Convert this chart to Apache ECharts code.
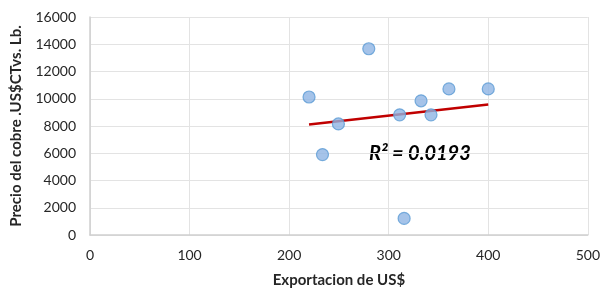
<!DOCTYPE html>
<html>
<head>
<meta charset="utf-8">
<script src="https://cdn.jsdelivr.net/npm/echarts@6/dist/echarts.min.js"></script>
<style>
  html, body { margin: 0; padding: 0; background: #fff; }
  #chart { width: 603px; height: 293px; }
</style>
</head>
<body>
<div id="chart"></div>
<script>
// datos
const exportaciones = [220, 280, 249.5, 233.5, 311, 332.5, 342.5, 360.5, 400, 315.5]
const precios = [10130, 13670, 8150, 5900, 8820, 9850, 8820, 10720, 10720, 1220]
const r2Texto = 'R² = 0.0193'

// recta de tendencia (minimos cuadrados)
const n = exportaciones.length
const mx = exportaciones.reduce((a, b) => a + b, 0) / n
const my = precios.reduce((a, b) => a + b, 0) / n
let sxy = 0, sxx = 0
for (let i = 0; i < n; i++) {
  sxy += (exportaciones[i] - mx) * (precios[i] - my)
  sxx += (exportaciones[i] - mx) ** 2
}
const pendiente = sxy / sxx
const xMin = Math.min(...exportaciones)
const xMax = Math.max(...exportaciones)
const tendencia = [
  [xMin, my + pendiente * (xMin - mx)],
  [xMax, my + pendiente * (xMax - mx)]
]

const puntos = exportaciones.map((x, i) => [x, precios[i]])

const chart = echarts.init(document.getElementById('chart'))
const fuente = 'Lato'
chart.setOption({
  animation: false,
  textStyle: { fontFamily: fuente },
  grid: { left: 90, right: 14, top: 17, bottom: 56 },
  xAxis: {
    type: 'value',
    min: 0, max: 500, interval: 100,
    name: 'Exportacion de US$',
    nameLocation: 'middle',
    nameGap: 38,
    nameTextStyle: { fontFamily: fuente, fontWeight: 'bold', fontSize: 15, color: '#262626' },
    axisLine: { show: true, lineStyle: { color: '#cfcfcf', width: 1.5 } },
    axisTick: { show: false },
    axisLabel: { fontFamily: fuente, fontSize: 14, color: '#262626', margin: 13 },
    splitLine: { show: true, lineStyle: { color: '#e3e3e3', width: 1 } }
  },
  yAxis: {
    type: 'value',
    min: 0, max: 16000, interval: 2000,
    name: 'Precio del cobre .US$CTvs. Lb.',
    nameLocation: 'middle',
    nameGap: 66,
    nameTextStyle: { fontFamily: fuente, fontWeight: 'bold', fontSize: 15, color: '#262626' },
    axisLine: { show: true, lineStyle: { color: '#cfcfcf', width: 1.5 } },
    axisTick: { show: false },
    axisLabel: {
      fontFamily: fuente, fontSize: 14, color: '#262626', margin: 14,
      formatter: v => String(v)
    },
    splitLine: { show: true, lineStyle: { color: '#e3e3e3', width: 1 } }
  },
  series: [
    {
      type: 'line',
      data: tendencia,
      symbol: 'none',
      lineStyle: { color: '#c00000', width: 2.5 },
      z: 2
    },
    {
      type: 'scatter',
      data: puntos,
      symbolSize: 12,
      itemStyle: { color: '#8fb4e3', borderColor: '#5b9bd5', borderWidth: 1.2 },
      z: 3
    }
  ],
  graphic: [
    {
      type: 'text',
      left: 369,
      top: 144,
      style: {
        text: r2Texto,
        font: 'italic bold 20px Lato',
        fill: '#000'
      }
    }
  ]
})
</script>
</body>
</html>
